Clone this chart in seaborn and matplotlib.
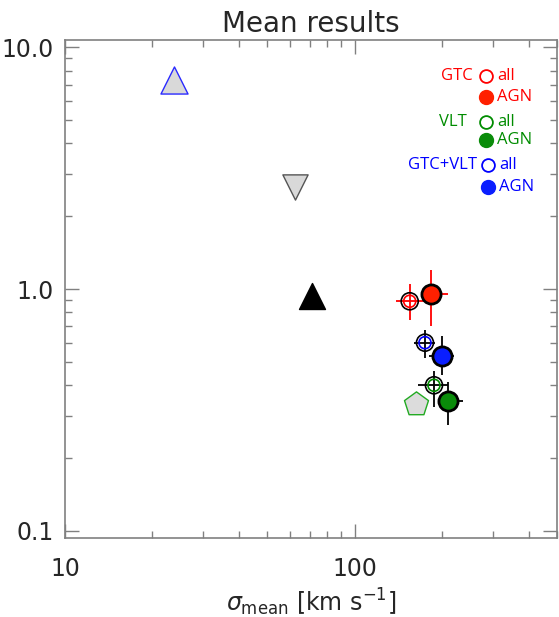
import numpy as np
import pandas as pd
import matplotlib
matplotlib.use("Agg")
import matplotlib.pyplot as plt
from matplotlib.ticker import FixedLocator, LogLocator, NullFormatter
import seaborn as sns

# ----- data -----
samples = ["GTC all", "GTC AGN", "GTC+VLT all", "GTC+VLT AGN", "VLT all", "VLT AGN"]
sigma = [155, 183, 175, 201, 188, 211]
ratio = [0.89, 0.95, 0.60, 0.53, 0.40, 0.345]
sigma_lo = [139, 172, 160, 180, 165, 195]
sigma_hi = [173, 211, 190, 220, 211, 236]
ratio_lo = [0.745, 0.70, 0.519, 0.441, 0.325, 0.274]
ratio_hi = [1.05, 1.20, 0.677, 0.639, 0.458, 0.413]
colors = ["#ff0000", "#ff2000", "#0000ff", "#0a1eff", "#008c00", "#0a8c0a"]
filled = [False, True, False, True, False, True]
err_colors = ["#ff0000", "#ff0000", "black", "black", "black", "black"]

# literature comparison points
lit_sigma = [23.8, 62.5, 71.0, 162.6]
lit_ratio = [7.3, 2.64, 0.94, 0.335]
lit_marker = ["^", "v", "^", "p"]
lit_face = ["#d9d9d9", "#d9d9d9", "black", "#dcdcdc"]
lit_edge = ["#2a2aff", "#555555", "black", "#22aa22"]
lit_size = [380, 330, 350, 330]

legend_rows = [("GTC", "#ff0000", "#ff2000"),
               ("VLT", "#008c00", "#0a8c0a"),
               ("GTC+VLT", "#0000ff", "#0a1eff")]

df = pd.DataFrame({"sample": samples, "sigma": sigma, "ratio": ratio})

sns.set_style("ticks")
plt.rcParams["font.family"] = ["DejaVu Sans"]

fig = plt.figure(figsize=(5.59, 6.17), dpi=100)
ax = fig.add_axes([65 / 559, 1 - 538 / 617, 492 / 559, 498 / 617])

# error bars behind markers
for i in range(len(samples)):
    ax.errorbar(sigma[i], ratio[i],
                xerr=[[sigma[i] - sigma_lo[i]], [sigma_hi[i] - sigma[i]]],
                yerr=[[ratio[i] - ratio_lo[i]], [ratio_hi[i] - ratio[i]]],
                fmt="none", ecolor=err_colors[i], elinewidth=1.3, capsize=0, zorder=2)

# literature markers
for i in range(len(lit_sigma)):
    sns.scatterplot(x=[lit_sigma[i]], y=[lit_ratio[i]], marker=lit_marker[i],
                    s=lit_size[i], color=lit_face[i], edgecolor=lit_edge[i],
                    linewidth=1.0, ax=ax, zorder=3, legend=False)

# sample markers
for i, row in df.iterrows():
    if filled[i]:
        sns.scatterplot(x=[row.sigma], y=[row.ratio], s=190, color=colors[i],
                        edgecolor="black", linewidth=2.0, ax=ax, zorder=4, legend=False)
    else:
        sns.scatterplot(x=[row.sigma], y=[row.ratio], s=150, facecolor="none",
                        edgecolor="black", linewidth=1.2, ax=ax, zorder=4, legend=False)
        sns.scatterplot(x=[row.sigma], y=[row.ratio], s=75, facecolor="none",
                        edgecolor=colors[i], linewidth=1.2, ax=ax, zorder=4, legend=False)

ax.set_xscale("log")
ax.set_yscale("log")
ax.set_xlim(10, 500)
ax.set_ylim(0.0935, 10.7)

ax.xaxis.set_major_locator(FixedLocator([10, 100]))
ax.set_xticklabels(["10", "100"])
ax.xaxis.set_minor_locator(LogLocator(base=10, subs=np.arange(2, 10)))
ax.xaxis.set_minor_formatter(NullFormatter())
ax.yaxis.set_major_locator(FixedLocator([0.1, 1.0, 10.0]))
ax.set_yticklabels(["0.1", "1.0", "10.0"])
ax.yaxis.set_minor_locator(LogLocator(base=10, subs=np.arange(2, 10)))
ax.yaxis.set_minor_formatter(NullFormatter())

ax.tick_params(which="both", direction="in", top=True, right=True, color="#808080")
ax.tick_params(which="major", length=10, width=1, labelsize=17, pad=8)
ax.tick_params(axis="x", which="major", pad=14)
ax.tick_params(which="minor", length=5, width=1)
for sp in ax.spines.values():
    sp.set_color("#808080")
    sp.set_linewidth(1.2)

ax.set_xlabel(r"$\sigma_{\rm mean}$ [km s$^{-1}$]", fontsize=17, labelpad=4)
ax.set_ylabel("")
ax.set_title("Mean results", fontsize=20, pad=6)

# hand-drawn legend in the upper right
row_y = [(0.928, 0.886), (0.835, 0.799), (0.749, 0.705)]
lab_x = [0.829, 0.817, 0.837]
circ_x = [0.856, 0.856, 0.860]
for (name, tcol, fcol), (y1, y2), lx, cx in zip(legend_rows, row_y, lab_x, circ_x):
    ax.text(lx, y1, name, color=tcol, fontsize=12, ha="right", va="center",
            family=["Open Sans"], transform=ax.transAxes)
    ax.scatter([cx], [y1], s=85, facecolor="white", edgecolor=tcol, linewidth=1.3,
               transform=ax.transAxes, zorder=5)
    ax.text(cx + 0.022, y1, "all", color=tcol, fontsize=12, ha="left", va="center",
            family=["Open Sans"], transform=ax.transAxes)
    ax.scatter([cx], [y2], s=100, color=fcol, edgecolor=fcol,
               transform=ax.transAxes, zorder=5)
    ax.text(cx + 0.022, y2, "AGN", color=tcol, fontsize=12, ha="left", va="center",
            family=["Open Sans"], transform=ax.transAxes)

fig.savefig("out.png", dpi=100)
